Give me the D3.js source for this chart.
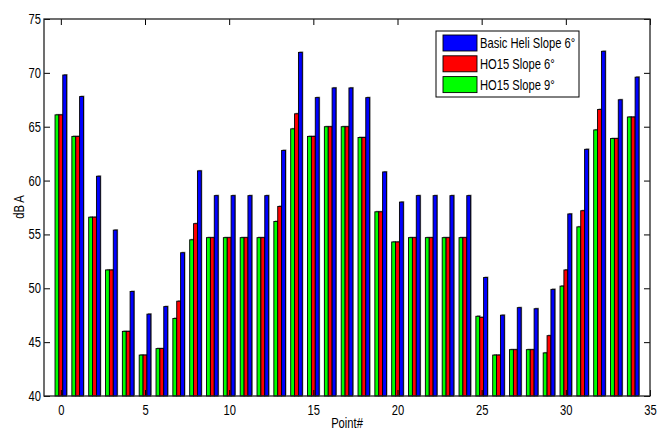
<!DOCTYPE html>
<html><head><meta charset="utf-8">
<script src="https://cdn.jsdelivr.net/npm/d3@7"></script>
<style>
body{margin:0;background:#fff;}
text{font-family:"Liberation Sans",Arial,sans-serif;}
</style></head>
<body><svg id="c" width="657" height="430"></svg>
<script>
const points = d3.range(0, 35);
const seriesNames = ["HO15 Slope 9°", "HO15 Slope 6°", "Basic Heli Slope 6°"];
const legendOrder = ["Basic Heli Slope 6°", "HO15 Slope 6°", "HO15 Slope 9°"];
const basicHeli6 = [69.8,67.8,60.4,55.4,49.7,47.6,48.3,53.3,60.9,58.6,58.6,58.6,58.6,62.8,71.9,67.7,68.6,68.6,67.7,60.8,58.0,58.6,58.6,58.6,58.6,51.0,47.5,48.2,48.1,49.9,56.9,62.9,72.0,67.5,69.6];
const ho15Slope6 = [66.1,64.1,56.6,51.7,46.0,43.8,44.4,48.8,56.0,54.7,54.7,54.7,54.7,57.6,66.2,64.1,65.0,65.0,64.0,57.1,54.3,54.7,54.7,54.7,54.7,47.3,43.8,44.3,44.3,45.6,51.7,57.2,66.6,63.9,65.9];
const ho15Slope9 = [66.1,64.1,56.6,51.7,46.0,43.8,44.4,47.2,54.5,54.7,54.7,54.7,54.7,56.2,64.8,64.1,65.0,65.0,64.0,57.1,54.3,54.7,54.7,54.7,54.7,47.4,43.8,44.3,44.3,44.0,50.2,55.7,64.7,63.9,65.9];
const xTicks = [0,5,10,15,20,25,30,35];
const yTicks = [40,45,50,55,60,65,70,75];
const colors = {"Basic Heli Slope 6°":"#0000ff","HO15 Slope 6°":"#ff0000","HO15 Slope 9°":"#00ff00"};
const seriesData = {"Basic Heli Slope 6°":basicHeli6,"HO15 Slope 6°":ho15Slope6,"HO15 Slope 9°":ho15Slope9};

const L=44, R=650, T=19, B=396;
const SX = 0.8; // horizontal text compression
const svg = d3.select("#c");
const x = d3.scaleLinear().domain([-1,35]).range([L,R]);
const y = d3.scaleLinear().domain([40,75]).range([B,T]);
const bw = 0.23;

const g = svg.append("g");
seriesNames.forEach((name,si)=>{
  const off = (si-1)*bw;
  const vals = seriesData[name];
  g.selectAll(null).data(points).enter().append("rect")
    .attr("x", d=>x(d+off-bw/2)+1)
    .attr("y", d=>y(vals[d])-1)
    .attr("width", x(bw)-x(0))
    .attr("height", d=>B-y(vals[d]))
    .attr("fill","#888");
});
seriesNames.forEach((name,si)=>{
  const off = (si-1)*bw;
  const vals = seriesData[name];
  g.selectAll(null).data(points).enter().append("rect")
    .attr("x", d=>x(d+off-bw/2))
    .attr("y", d=>y(vals[d]))
    .attr("width", x(bw)-x(0))
    .attr("height", d=>B-y(vals[d]))
    .attr("fill",colors[name])
    .attr("stroke","#000").attr("stroke-width",0.9);
});

const fs = "14px";
const ax = svg.append("g").attr("transform",`translate(0,${B})`)
  .call(d3.axisBottom(x).tickValues(xTicks).tickSize(-6).tickPadding(9).tickFormat(d3.format("d")));
const ay = svg.append("g").attr("transform",`translate(${L},0)`)
  .call(d3.axisLeft(y).tickValues(yTicks).tickSize(-6).tickPadding(4).tickFormat(d3.format("d")));
const axt = svg.append("g").attr("transform",`translate(0,${T})`)
  .call(d3.axisTop(x).tickValues(xTicks).tickSize(-6).tickFormat(""));
const ayr = svg.append("g").attr("transform",`translate(${R},0)`)
  .call(d3.axisRight(y).tickValues(yTicks).tickSize(-6).tickFormat(""));
[ax,ay,axt,ayr].forEach(a=>{
  a.select(".domain").remove();
  a.selectAll("line").attr("stroke","#000");
  a.selectAll("text").attr("font-size",fs).attr("fill","#000").style("font-family",null);
});
ax.selectAll("text").attr("transform",`scale(${SX},1)`);
ay.selectAll("text").attr("x",-3/SX).attr("transform",`scale(${SX},1)`);

svg.append("rect").attr("x",L).attr("y",T).attr("width",R-L).attr("height",B-T)
  .attr("fill","none").attr("stroke","#222").attr("stroke-width",1.3);

svg.append("text").attr("transform",`translate(${(L+R)/2},428) scale(${SX},1)`).attr("text-anchor","middle")
  .attr("font-size",fs).text("Point#");
svg.append("text").attr("transform",`translate(24,207) rotate(-90) scale(${SX},1)`).attr("text-anchor","middle")
  .attr("font-size",fs).text("dB A");

const lg = svg.append("g");
lg.append("rect").attr("x",436).attr("y",31).attr("width",143).attr("height",66)
  .attr("fill","#fff").attr("stroke","#000").attr("stroke-width",1);
legendOrder.forEach((name,i)=>{
  const yy = 35 + i*20.8;
  lg.append("rect").attr("x",443).attr("y",yy).attr("width",34).attr("height",16)
    .attr("fill",colors[name]).attr("stroke","#000").attr("stroke-width",0.9);
  lg.append("text").attr("transform",`translate(480,${yy+13}) scale(${SX},1)`)
    .attr("font-size",fs).text(name);
});
</script></body></html>
